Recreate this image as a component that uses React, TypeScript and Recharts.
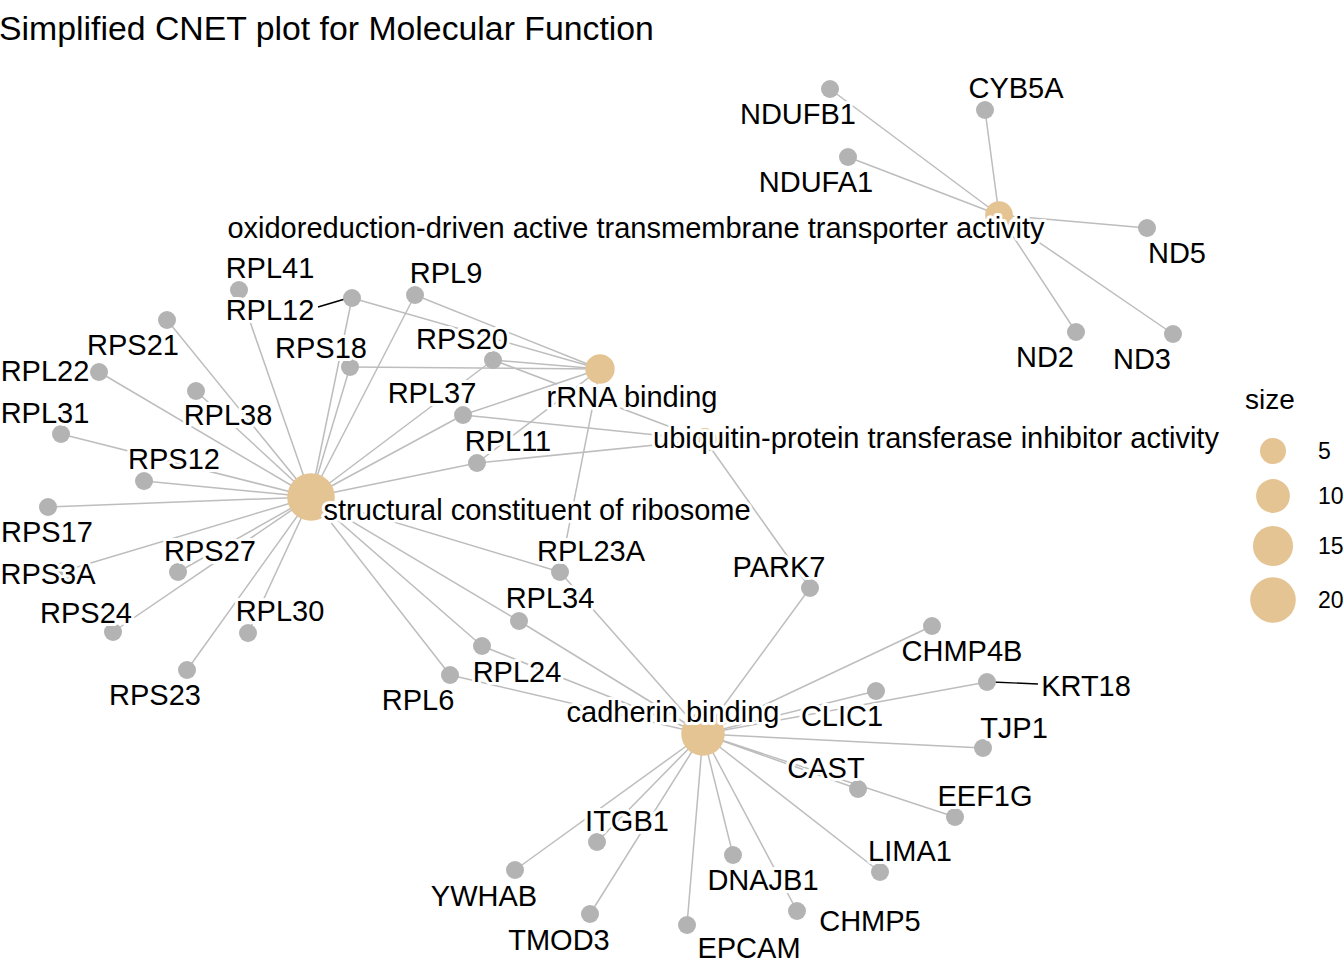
import { ScatterChart, Scatter, XAxis, YAxis, ZAxis } from "recharts";

// layout coordinates (pixel space, y down)
const GENES = [
  { name: "NDUFB1", x: 830, y: 89 },
  { name: "CYB5A", x: 985, y: 110 },
  { name: "NDUFA1", x: 848, y: 157 },
  { name: "ND5", x: 1147, y: 228 },
  { name: "ND2", x: 1076, y: 332 },
  { name: "ND3", x: 1173, y: 334 },
  { name: "RPL41", x: 239, y: 290 },
  { name: "RPL12", x: 352, y: 298 },
  { name: "RPL9", x: 415, y: 295 },
  { name: "RPS21", x: 167, y: 320 },
  { name: "RPS18", x: 350, y: 367 },
  { name: "RPS20", x: 493, y: 360 },
  { name: "RPL22", x: 99, y: 372 },
  { name: "RPL38", x: 196, y: 391 },
  { name: "RPL37", x: 463, y: 415 },
  { name: "RPL31", x: 61, y: 434 },
  { name: "RPL11", x: 477, y: 463 },
  { name: "RPS12", x: 144, y: 481 },
  { name: "RPS17", x: 48, y: 507 },
  { name: "RPS3A", x: 64, y: 571 },
  { name: "RPS27", x: 178, y: 572 },
  { name: "RPS24", x: 113, y: 632 },
  { name: "RPL30", x: 248, y: 633 },
  { name: "RPS23", x: 187, y: 670 },
  { name: "RPL23A", x: 560, y: 572 },
  { name: "RPL34", x: 519, y: 621 },
  { name: "RPL24", x: 482, y: 646 },
  { name: "RPL6", x: 450, y: 675 },
  { name: "PARK7", x: 810, y: 588 },
  { name: "CHMP4B", x: 932, y: 626 },
  { name: "KRT18", x: 987, y: 682 },
  { name: "CLIC1", x: 876, y: 691 },
  { name: "TJP1", x: 983, y: 748 },
  { name: "CAST", x: 858, y: 789 },
  { name: "EEF1G", x: 955, y: 817 },
  { name: "LIMA1", x: 880, y: 872 },
  { name: "ITGB1", x: 597, y: 842 },
  { name: "DNAJB1", x: 733, y: 855 },
  { name: "YWHAB", x: 515, y: 870 },
  { name: "CHMP5", x: 797, y: 911 },
  { name: "TMOD3", x: 590, y: 914 },
  { name: "EPCAM", x: 687, y: 925 },
];

const OXI = "oxidoreduction-driven active transmembrane transporter activity";
const RRNA = "rRNA binding";
const UBQ = "ubiquitin-protein transferase inhibitor activity";
const SCR = "structural constituent of ribosome";
const CAD = "cadherin binding";

const CATEGORIES = [
  { name: OXI, x: 999, y: 215, size: 6 },
  { name: RRNA, x: 600, y: 369, size: 7 },
  { name: UBQ, x: 705, y: 440, size: 4 },
  { name: SCR, x: 311, y: 497, size: 22 },
  { name: CAD, x: 703, y: 734, size: 18 },
];

const CATEGORY_GENES: [string, string[]][] = [
  [OXI, ["NDUFB1", "CYB5A", "NDUFA1", "ND5", "ND2", "ND3"]],
  [RRNA, ["RPL12", "RPL9", "RPS18", "RPS20", "RPL37", "RPL11", "RPL23A"]],
  [UBQ, ["RPS20", "RPL37", "RPL11", "PARK7"]],
  [
    SCR,
    [
      "RPL41", "RPL12", "RPL9", "RPS21", "RPS18", "RPS20", "RPL22", "RPL38",
      "RPL37", "RPL31", "RPL11", "RPS12", "RPS17", "RPS3A", "RPS27", "RPS24",
      "RPL30", "RPS23", "RPL23A", "RPL34", "RPL24", "RPL6",
    ],
  ],
  [
    CAD,
    [
      "RPL23A", "RPL34", "RPL24", "RPL6", "PARK7", "CHMP4B", "KRT18", "CLIC1",
      "TJP1", "CAST", "EEF1G", "LIMA1", "ITGB1", "DNAJB1", "YWHAB", "CHMP5",
      "TMOD3", "EPCAM",
    ],
  ],
];

// repelled label positions (text centres)
const LABELS = [
  { name: "NDUFB1", x: 798, y: 114 },
  { name: "CYB5A", x: 1016, y: 88 },
  { name: "NDUFA1", x: 816, y: 182 },
  { name: OXI, x: 636, y: 228 },
  { name: "ND5", x: 1177, y: 253 },
  { name: "ND2", x: 1045, y: 357 },
  { name: "ND3", x: 1142, y: 359 },
  { name: "RPL41", x: 270, y: 268 },
  { name: "RPL12", x: 270, y: 310 },
  { name: "RPL9", x: 446, y: 273 },
  { name: "RPS21", x: 133, y: 345 },
  { name: "RPS18", x: 321, y: 348 },
  { name: "RPS20", x: 462, y: 339 },
  { name: RRNA, x: 632, y: 397 },
  { name: "RPL22", x: 45, y: 371 },
  { name: "RPL38", x: 228, y: 415 },
  { name: "RPL37", x: 432, y: 393 },
  { name: "RPL31", x: 45, y: 413 },
  { name: UBQ, x: 936, y: 438 },
  { name: "RPL11", x: 508, y: 441 },
  { name: "RPS12", x: 174, y: 459 },
  { name: SCR, x: 537, y: 510 },
  { name: "RPS17", x: 47, y: 532 },
  { name: "RPL23A", x: 591, y: 551 },
  { name: "PARK7", x: 779, y: 567 },
  { name: "RPS27", x: 210, y: 551 },
  { name: "RPS3A", x: 48, y: 574 },
  { name: "RPS24", x: 86, y: 613 },
  { name: "RPL30", x: 280, y: 611 },
  { name: "RPL34", x: 550, y: 598 },
  { name: "RPS23", x: 155, y: 695 },
  { name: "RPL24", x: 517, y: 672 },
  { name: "RPL6", x: 418, y: 700 },
  { name: CAD, x: 673, y: 712 },
  { name: "CHMP4B", x: 962, y: 651 },
  { name: "KRT18", x: 1086, y: 686 },
  { name: "CLIC1", x: 842, y: 716 },
  { name: "TJP1", x: 1014, y: 728 },
  { name: "CAST", x: 826, y: 768 },
  { name: "EEF1G", x: 985, y: 796 },
  { name: "LIMA1", x: 910, y: 851 },
  { name: "ITGB1", x: 627, y: 821 },
  { name: "DNAJB1", x: 763, y: 880 },
  { name: "YWHAB", x: 484, y: 896 },
  { name: "CHMP5", x: 870, y: 921 },
  { name: "TMOD3", x: 559, y: 940 },
  { name: "EPCAM", x: 749, y: 948 },
];

// ggrepel leader segments
const LEADERS = [
  [{ x: 318, y: 307 }, { x: 345, y: 299 }],
  [{ x: 992, y: 682 }, { x: 1038, y: 684 }],
];

const SIZE_BREAKS = [5, 10, 15, 20];

const FONT = '"Liberation Sans", Arial, sans-serif';
const EDGE = "#BDBDBD";
const GENE_FILL = "#B3B3B3";
const CAT_FILL = "#E5C494";
// point area (px^2) as a linear function of size, shared by nodes and legend
const AREA_INTERCEPT = Math.PI * 52;
const AREA_SLOPE = Math.PI * 23.4;
const SIZE_DOMAIN = [0, 25];
const AREA_RANGE = [AREA_INTERCEPT, AREA_INTERCEPT + AREA_SLOPE * 25];

const pos: Record<string, { x: number; y: number }> = Object.fromEntries(
  [...GENES, ...CATEGORIES].map((n) => [n.name, { x: n.x, y: n.y }])
);

const edges = CATEGORY_GENES.flatMap(([cat, genes]) =>
  genes.map((g) => [pos[cat], pos[g]])
);

const Empty = () => <g />;

const GeneDot = (props: any) => (
  <circle cx={props.cx} cy={props.cy} r={9} fill={GENE_FILL} />
);

const NodeLabel = (props: any) => (
  <text
    x={props.cx}
    y={props.cy}
    textAnchor="middle"
    dominantBaseline="central"
    fontFamily={FONT}
    fontSize={29}
    fill="#000"
    stroke="#fff"
    strokeWidth={6}
    strokeLinejoin="round"
    paintOrder="stroke"
  >
    {props.payload.name}
  </text>
);

const SizeLegend = () => (
  <svg
    width={120}
    height={260}
    style={{ position: "absolute", left: 1230, top: 375, overflow: "visible" }}
  >
    <text x={15} y={34} fontFamily={FONT} fontSize={28} fill="#000">
      size
    </text>
    {SIZE_BREAKS.map((s, i) => {
      const r = Math.sqrt((AREA_INTERCEPT + AREA_SLOPE * s) / Math.PI);
      const cy = [76, 121, 171, 225][i];
      return (
        <g key={s}>
          <circle cx={43} cy={cy} r={r} fill={CAT_FILL} />
          <text
            x={88}
            y={cy}
            dominantBaseline="central"
            fontFamily={FONT}
            fontSize={23}
            fill="#000"
          >
            {s}
          </text>
        </g>
      );
    })}
  </svg>
);

export default function App() {
  return (
    <div
      style={{
        position: "absolute",
        left: 0,
        top: 0,
        width: 1344,
        height: 960,
        overflow: "hidden",
        background: "#fff",
      }}
    >
      <ScatterChart
        width={1344}
        height={960}
        margin={{ top: 0, right: 0, bottom: 0, left: 0 }}
      >
        <XAxis type="number" dataKey="x" domain={[0, 1344]} hide />
        <YAxis type="number" dataKey="y" domain={[0, 960]} reversed hide />
        <ZAxis
          zAxisId="cat"
          type="number"
          dataKey="size"
          domain={SIZE_DOMAIN}
          range={AREA_RANGE}
        />
        {edges.map((d, i) => (
          <Scatter
            key={`e${i}`}
            data={d}
            line={{ stroke: EDGE, strokeWidth: 1.5 }}
            shape={Empty}
            legendType="none"
            isAnimationActive={false}
          />
        ))}
        {LEADERS.map((d, i) => (
          <Scatter
            key={`l${i}`}
            data={d}
            line={{ stroke: "#000", strokeWidth: 1.4 }}
            shape={Empty}
            legendType="none"
            isAnimationActive={false}
          />
        ))}
        <Scatter
          data={GENES}
          shape={GeneDot}
          legendType="none"
          isAnimationActive={false}
        />
        <Scatter
          data={CATEGORIES}
          zAxisId="cat"
          fill={CAT_FILL}
          legendType="none"
          isAnimationActive={false}
        />
        <Scatter
          data={LABELS}
          shape={NodeLabel}
          legendType="none"
          isAnimationActive={false}
        />
      </ScatterChart>
      <SizeLegend />
      <svg
        width={1344}
        height={60}
        style={{ position: "absolute", left: 0, top: 0, pointerEvents: "none" }}
      >
        <text x={-1} y={40} fontFamily={FONT} fontSize={33.8} fill="#000">
          Simplified CNET plot for Molecular Function
        </text>
      </svg>
    </div>
  );
}
